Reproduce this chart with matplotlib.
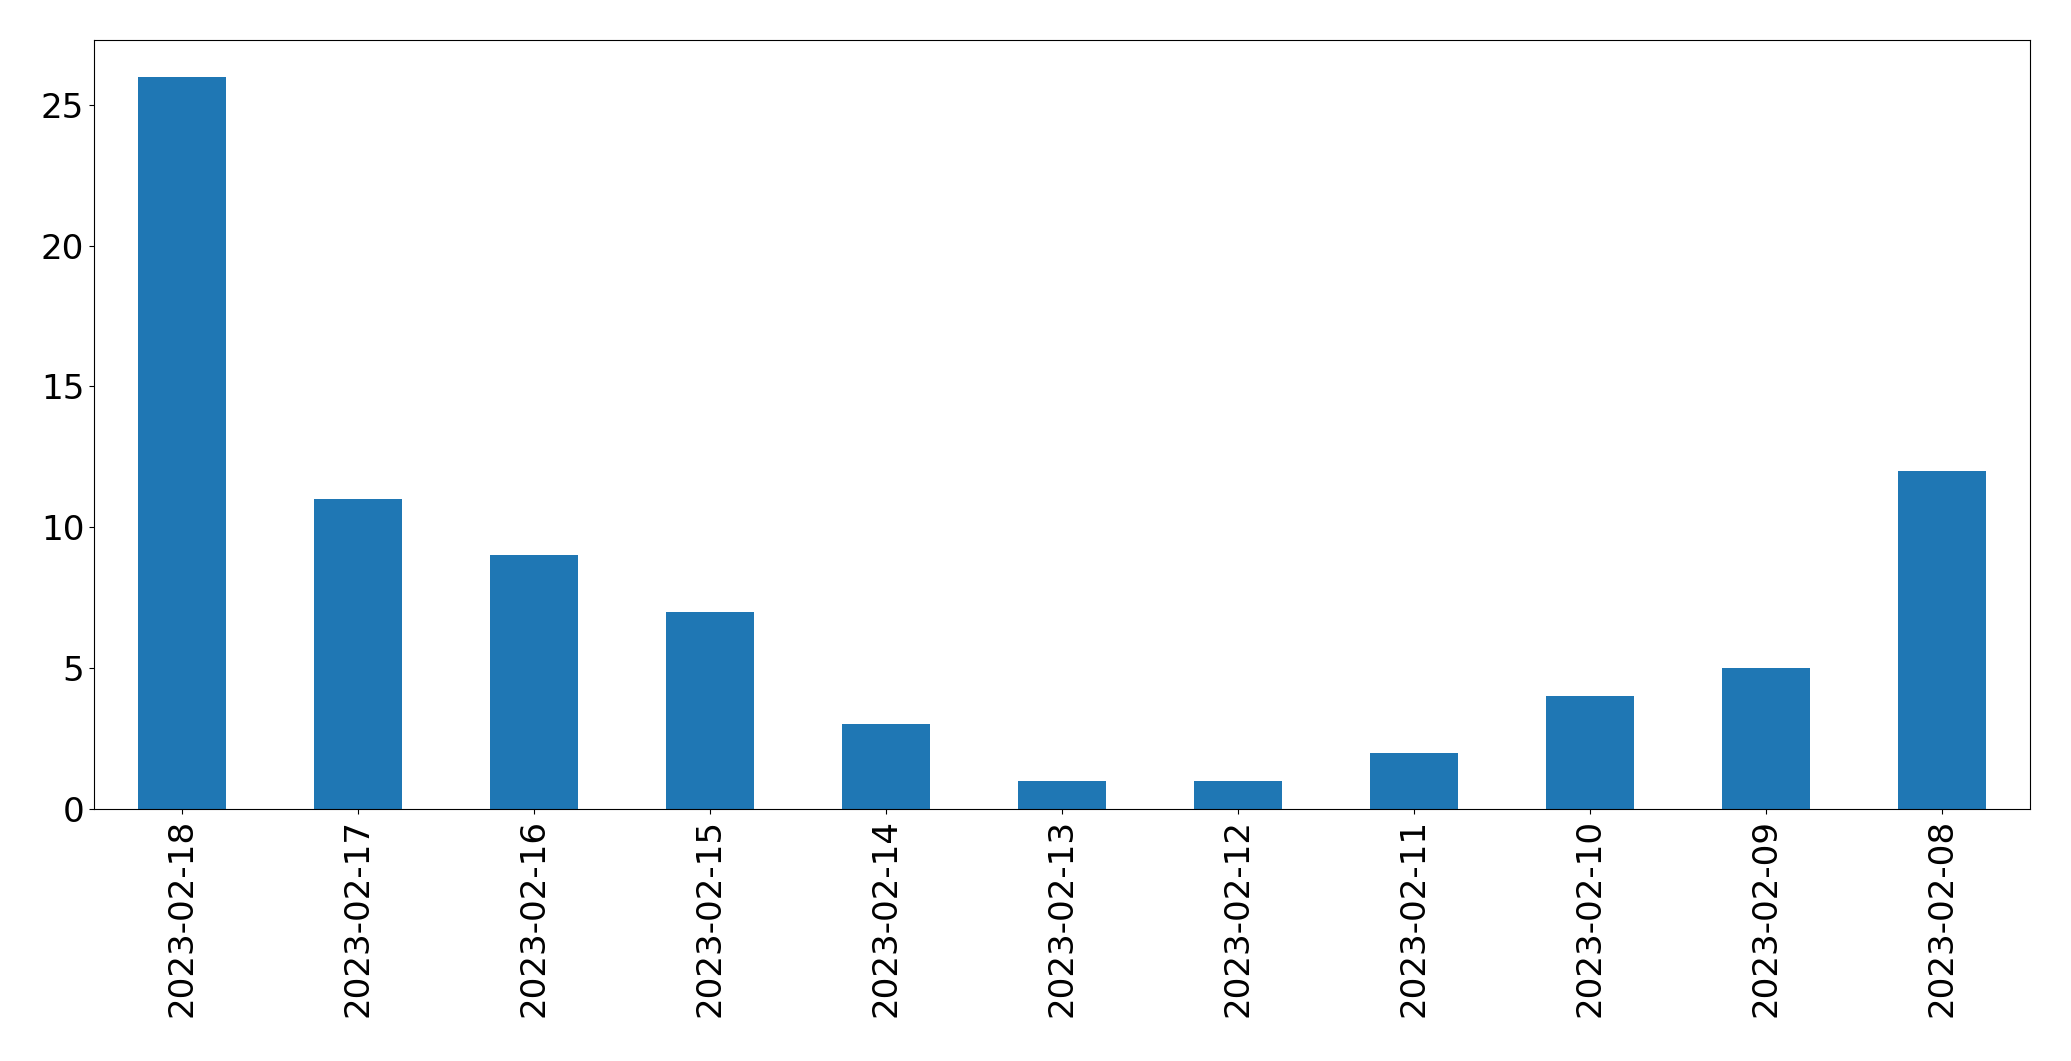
import matplotlib
matplotlib.use("Agg")
import matplotlib.pyplot as plt
import pandas as pd

# daily counts, newest first (as in the original series)
dates = ['2023-02-18', '2023-02-17', '2023-02-16', '2023-02-15', '2023-02-14',
         '2023-02-13', '2023-02-12', '2023-02-11', '2023-02-10', '2023-02-09',
         '2023-02-08']
counts = [26, 11, 9, 7, 3, 1, 1, 2, 4, 5, 12]

series = pd.Series(counts, index=dates)

fig = plt.figure(figsize=(20.71, 10.61), dpi=100)
ax = fig.add_axes([94 / 2071, 1 - 809 / 1061, (2030 - 94) / 2071, (809 - 40) / 1061])
series.plot.bar(ax=ax, color='#1f77b4', fontsize=24.6)
ax.set_ylim(0, 27.3)
ax.set_yticks([0, 5, 10, 15, 20, 25])

fig.savefig('out.png', dpi=100)
